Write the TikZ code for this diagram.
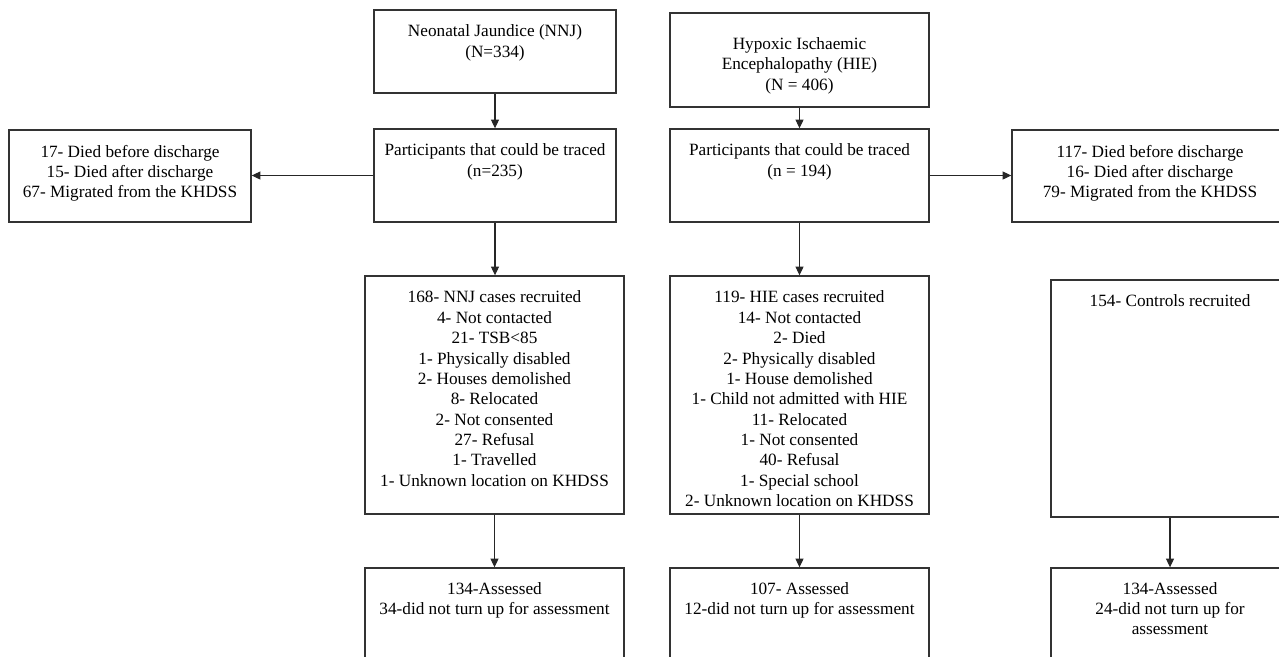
\documentclass[tikz,border=0pt]{standalone}
\usepackage{fontspec}
\setmainfont{Liberation Serif}
\usetikzlibrary{arrows.meta}

\begin{document}
\begin{tikzpicture}[
        box/.style={draw=black!80, line width=0.8pt, inner sep=0pt},
        box_text/.style={font=\fontsize{9.8pt}{11.6pt}\selectfont, align=center, anchor=north, inner sep=0pt, yshift=-8.7pt},
        flow/.style={draw=black!85, line width=0.6pt, -{Triangle[length=5pt, width=4.6pt]}},
    ]

    % Page frame (right and bottom boxes run off the page)
    \useasboundingbox (0,0) rectangle (25.58,-13.12);
    \clip (0,0) rectangle (25.58,-13.12);

    % Column centres and widths
    \def\xnnj{9.90}
    \def\xhie{15.99}
    \def\xctrl{23.40}
    \def\wide{5.18}

    % Cohorts
    \node[box, minimum width=4.84cm, minimum height=1.66cm,
          label={[box_text]north:{Neonatal Jaundice (NNJ)\\(N=334)}}] (nnj) at (\xnnj, -1.03) {};
    \node[box, minimum width=\wide cm, minimum height=1.88cm,
          label={[box_text, yshift=-5.5pt]north:{Hypoxic Ischaemic\\Encephalopathy (HIE)\\(N = 406)}}] (hie) at (\xhie, -1.20) {};

    % Traced
    \node[box, minimum width=4.84cm, minimum height=1.86cm,
          label={[box_text]north:{Participants that could be traced\\(n=235)}}] (nnj_traced) at (\xnnj, -3.51) {};
    \node[box, minimum width=\wide cm, minimum height=1.86cm,
          label={[box_text]north:{Participants that could be traced\\(n = 194)}}] (hie_traced) at (\xhie, -3.51) {};

    % Lost to follow-up
    \node[box, minimum width=4.84cm, minimum height=1.84cm,
          label={[box_text]north:{17- Died before discharge\\15- Died after discharge\\67- Migrated from the KHDSS}}] (nnj_lost) at (2.60, -3.52) {};
    \node[box, minimum width=5.52cm, minimum height=1.84cm,
          label={[box_text]north:{117- Died before discharge\\16- Died after discharge\\79- Migrated from the KHDSS}}] (hie_lost) at (23.00, -3.52) {};

    % Recruited
    \node[box, minimum width=\wide cm, minimum height=4.76cm,
          label={[box_text]north:{168- NNJ cases recruited\\4- Not contacted\\21- TSB<85\\1- Physically disabled\\2- Houses demolished\\8- Relocated\\2- Not consented\\27- Refusal\\1- Travelled\\1- Unknown location on KHDSS}}] (nnj_rec) at (9.89, -7.90) {};
    \node[box, minimum width=\wide cm, minimum height=4.76cm,
          label={[box_text]north:{119- HIE cases recruited\\14- Not contacted\\2- Died\\2- Physically disabled\\1- House demolished\\1- Child not admitted with HIE\\11- Relocated\\1- Not consented\\40- Refusal\\1- Special school\\2- Unknown location on KHDSS}}] (hie_rec) at (\xhie, -7.90) {};
    \node[box, minimum width=4.76cm, minimum height=4.74cm,
          label={[box_text]north:{154- Controls recruited}}] (ctrl_rec) at (\xctrl, -7.97) {};

    % Assessed
    \node[box, minimum width=\wide cm, minimum height=2.24cm,
          label={[box_text, yshift=0.5pt]north:{134-Assessed\\34-did not turn up for assessment}}] (nnj_ass) at (9.89, -12.48) {};
    \node[box, minimum width=\wide cm, minimum height=2.24cm,
          label={[box_text, yshift=0.5pt]north:{107- Assessed\\12-did not turn up for assessment}}] (hie_ass) at (\xhie, -12.48) {};
    \node[box, minimum width=4.76cm, minimum height=2.24cm,
          label={[box_text, yshift=0.5pt]north:{134-Assessed\\24-did not turn up for\\assessment}}] (ctrl_ass) at (\xctrl, -12.48) {};

    % Connectors
    \draw[flow] (nnj.south) -- (nnj_traced.north);
    \draw[flow] (hie.south) -- (hie_traced.north);
    \draw[flow] (nnj_traced.west) -- (nnj_traced.west -| nnj_lost.east);
    \draw[flow] (hie_traced.east) -- (hie_traced.east -| hie_lost.west);
    \draw[flow] (nnj_traced.south) -- (nnj_traced.south |- nnj_rec.north);
    \draw[flow] (hie_traced.south) -- (hie_rec.north);
    \foreach \a/\b in {nnj_rec/nnj_ass, hie_rec/hie_ass, ctrl_rec/ctrl_ass} {
        \draw[flow] (\a.south) -- (\b.north);
    }

\end{tikzpicture}
\end{document}
